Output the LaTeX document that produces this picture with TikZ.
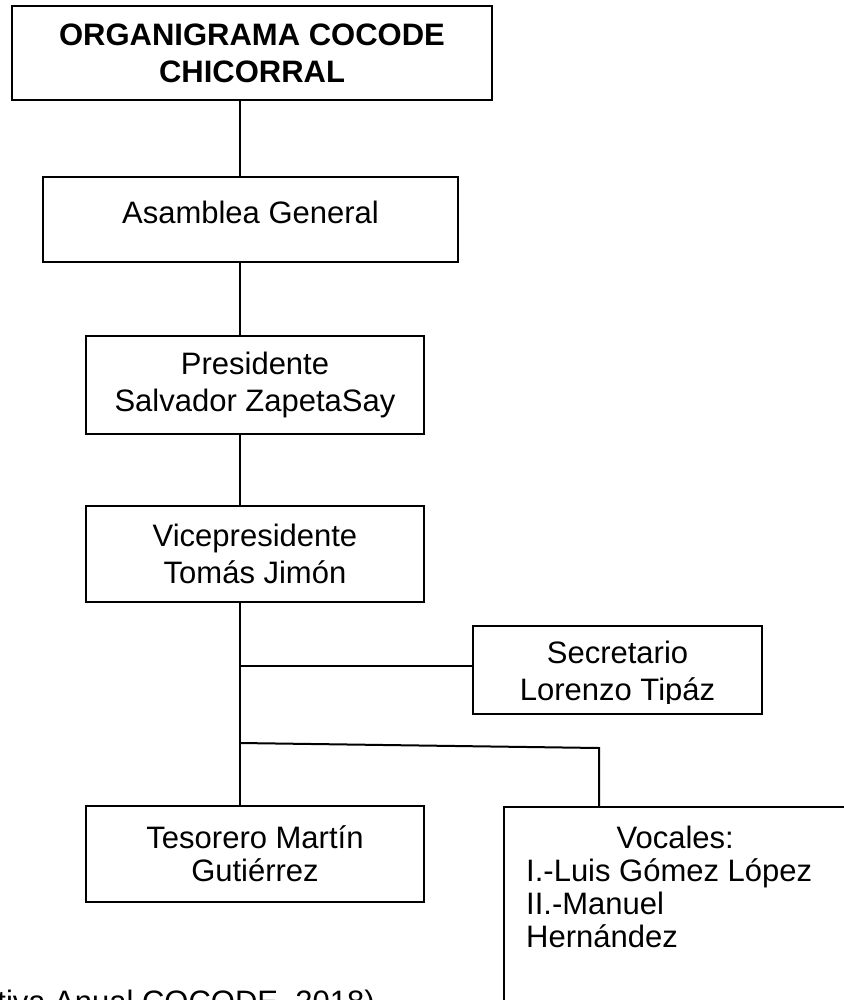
\documentclass[tikz,border=0pt]{standalone}
\usepackage{fontspec}
\setmainfont{Liberation Sans}
\usetikzlibrary{positioning}

\begin{document}
\begin{tikzpicture}[x=0.5pt,y=-0.5pt,
    box/.style={draw,line width=1.2pt,align=center,inner sep=0pt,
      font=\fontsize{15.5}{18.5}\selectfont},
    link/.style={line width=1pt}
  ]
    \useasboundingbox (0,0) rectangle (843,1000);
    \coordinate (spine) at (240,0);
    \node[box,minimum width=240pt,minimum height=47pt,
      font=\bfseries\fontsize{15.5}{18.5}\selectfont] (title) at (252,53)
      {ORGANIGRAMA COCODE\\CHICORRAL};
    \node[box,minimum width=207.5pt,minimum height=42.5pt] (asam) at (250.5,219.5)
      {\raisebox{-2.25pt}[0pt][0pt]{Asamblea General}};
    \node[box,minimum width=169pt,minimum height=49pt] (pres) at (255,385)
      {Presidente\\Salvador ZapetaSay};
    \node[box,minimum width=169pt,minimum height=48pt] (vice) at (255,554)
      {Vicepresidente\\Tomás Jimón};
    \node[box,minimum width=144.5pt,minimum height=44pt] (secr) at (617.5,670) {};
    \begin{scope}
      \clip (secr.north west) rectangle ([yshift=6pt]secr.south east);
      \node[box,draw=none,yshift=-1.75pt] (secrtext) at (secr.center)
        {Secretario\\Lorenzo Tipáz};
    \end{scope}
    \node[box,minimum width=169pt,minimum height=48pt,
      font=\fontsize{15.5}{16.5}\selectfont] (teso) at (255,854)
      {Tesorero Martín\\Gutiérrez};
    \node[draw,line width=1.2pt,anchor=north west,inner xsep=11pt,inner ysep=9.5pt,
      font=\fontsize{15.5}{16.5}\selectfont] (voc) at (503,806)
      {\parbox[t][88pt][t]{149pt}{\centering Vocales:\par\raggedright
        I.-Luis Gómez López\\II.-Manuel\\Hernández}\hspace*{25pt}};
    \node[anchor=base west,inner sep=0pt,font=\fontsize{15.5}{18.5}\selectfont]
      (src) at (-3,1012) {tiva Anual COCODE, 2018)};

    \draw[link] (title.south -| spine) -- (asam.north -| spine);
    \draw[link] (asam.south -| spine) -- (pres.north -| spine);
    \draw[link] (pres.south -| spine) -- (vice.north -| spine);
    \draw[link] (vice.south -| spine) -- (teso.north -| spine);
    \draw[link] ([yshift=2pt]secr.west) -- ([yshift=2pt]secr.west -| spine);
    \coordinate (split) at (240,743);
    \coordinate (bend) at (599,748);
    \draw[link] (split) -- (bend) -- (bend |- voc.north);
\end{tikzpicture}
\end{document}
